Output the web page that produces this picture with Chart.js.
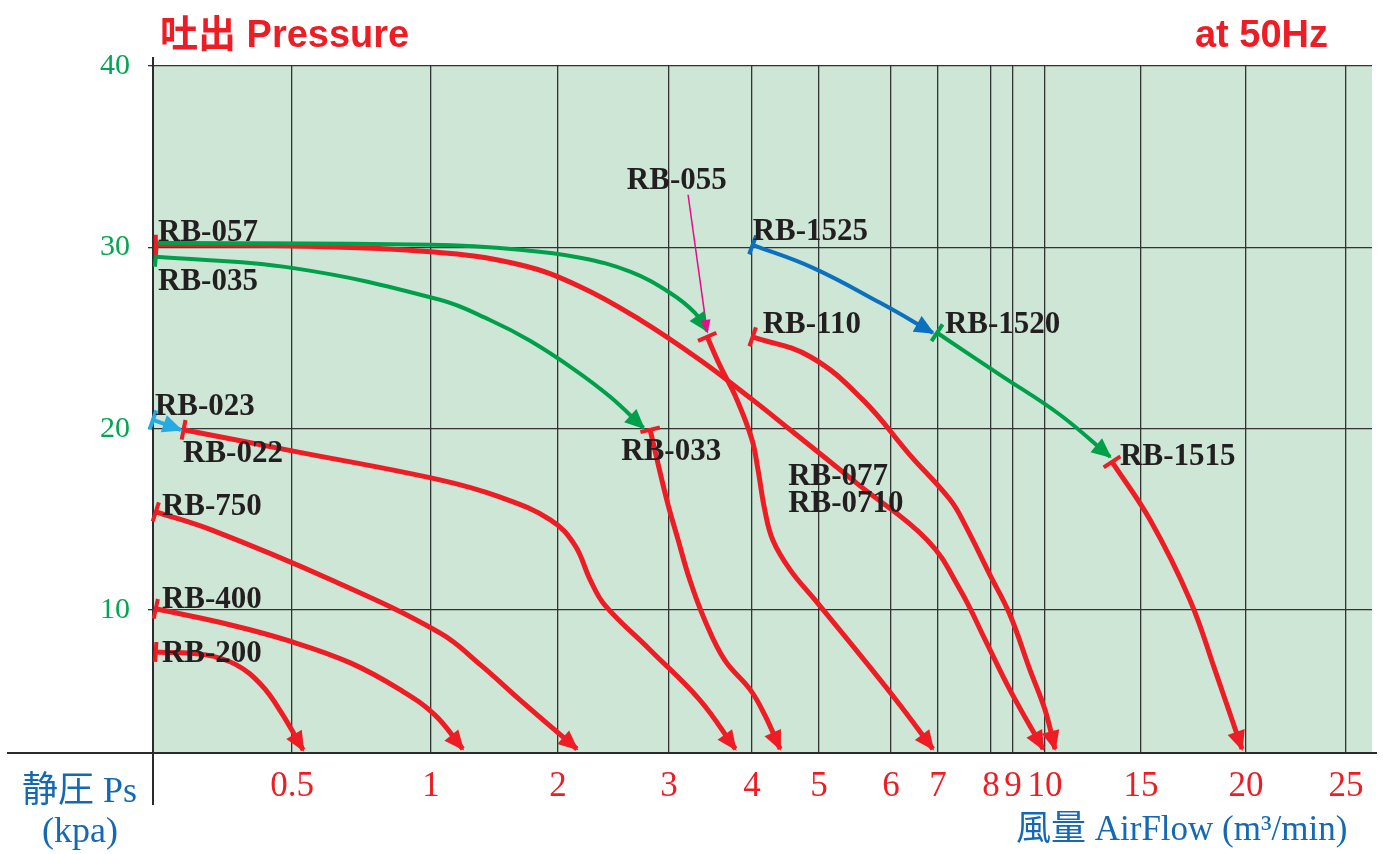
<!DOCTYPE html>
<html>
<head>
<meta charset="utf-8">
<title>RB blower pressure curves</title>
<script src="https://cdn.jsdelivr.net/npm/chart.js@4.4.1/dist/chart.umd.min.js"></script>
<style>
  body { margin: 0; background: #fff; }
  canvas { display: block; }
</style>
</head>
<body>
<canvas id="chart" width="1383" height="854"></canvas>
<script>
// x axis is not linear: airflow tick values and where their grid lines sit on the axis
const xTickValues = [0, 0.5, 1, 2, 3, 4, 5, 6, 7, 8, 9, 10, 15, 20, 25];
const xTickPos = [0, 139, 278, 405, 516, 599, 666, 738, 785, 838, 860, 892, 988, 1093, 1193];
const xAxisEnd = 1219;
const yTickValues = [10, 20, 30, 40];

// curves: airflow (m3/min) and static pressure (kPa)
const rb200Flow = [0.01, 0.19, 0.30, 0.39, 0.46, 0.54];
const rb200Ps = [7.69, 7.53, 6.98, 5.87, 4.39, 2.29];
const rb400Flow = [0.01, 0.28, 0.49, 0.71, 0.89, 1.03, 1.25];
const rb400Ps = [10.07, 9.18, 8.30, 7.09, 5.60, 4.22, 2.34];
const rb750Flow = [0.01, 0.21, 0.64, 1.07, 1.39, 1.70, 2.17];
const rb750Ps = [15.42, 14.42, 11.67, 8.74, 6.98, 5.05, 2.34];
const rb022Flow = [0.11, 0.50, 1.07, 1.54, 1.94, 2.15, 2.29, 2.42, 2.83, 3.37, 3.80];
const rb022Ps = [19.94, 18.78, 17.18, 16.24, 14.98, 13.60, 11.67, 10.29, 7.80, 5.05, 2.34];
const rb023Flow = [0, 0.10];
const rb023Ps = [20.49, 19.94];
const rb057UpFlow = [0, 1.0, 1.70, 2.20, 2.65, 3.01, 3.31, 3.46];
const rb057UpPs = [30.25, 30.14, 29.87, 29.43, 28.66, 27.50, 26.40, 25.40];
const rb057Flow = [0.01, 0.49, 1.0, 1.70, 2.20, 2.74, 3.37, 4.01, 4.57, 5.57, 6.77, 7.42, 7.89, 8.86, 9.94];
const rb057Ps = [30.14, 30.09, 29.76, 29.04, 27.83, 26.0, 23.80, 21.59, 19.94, 16.85, 13.87, 11.11, 8.36, 5.60, 2.34];
const rb035Flow = [0.01, 0.50, 1.07, 1.46, 1.78, 2.15, 2.47, 2.77];
const rb035Ps = [29.48, 28.87, 27.11, 26.01, 24.85, 23.25, 21.76, 20.05];
const rb055Flow = [3.46, 3.61, 3.82, 4.00, 4.09, 4.19, 4.31, 4.57, 4.94, 5.57, 6.19, 6.89];
const rb055Ps = [25.07, 23.52, 21.59, 19.39, 17.73, 15.53, 13.87, 12.22, 10.56, 7.53, 4.77, 2.34];
const rb033Flow = [2.83, 2.98, 3.11, 3.25, 3.43, 3.67, 3.98, 4.19, 4.42];
const rb033Ps = [19.94, 16.08, 13.87, 11.67, 9.46, 7.25, 5.60, 4.22, 2.34];
const rb110Flow = [4.01, 4.87, 5.61, 6.40, 7.23, 7.51, 7.98, 8.86, 9.53, 10.0, 10.52];
const rb110Ps = [25.07, 23.97, 21.59, 18.56, 16.08, 14.70, 11.94, 9.74, 6.70, 4.50, 2.34];
const rb1525Flow = [4.01, 4.91, 5.85, 6.89];
const rb1525Ps = [30.14, 28.87, 26.94, 25.29];
const rb1520Flow = [6.98, 8.41, 10.78, 13.39];
const rb1520Ps = [25.29, 22.97, 20.77, 18.45];
const rb1515Flow = [13.49, 15.43, 17.33, 18.52, 19.81];
const rb1515Ps = [18.17, 14.98, 10.56, 6.70, 2.34];
const rb055PointerFlow = [3.23, 3.46];
const rb055PointerPs = [32.90, 25.34];

// model names and where they are written (flow, kPa at text baseline-left)
const modelNames = ['RB-057', 'RB-035', 'RB-023', 'RB-022', 'RB-750', 'RB-400', 'RB-200', 'RB-055',
  'RB-1525', 'RB-110', 'RB-1520', 'RB-033', 'RB-077', 'RB-0710', 'RB-1515'];
const nameFlow = [0.018, 0.018, 0.007, 0.108, 0.032, 0.032, 0.032, 2.62, 4.01, 4.16, 7.13, 2.57, 4.54, 4.54, 13.91];
const namePs = [30.36, 27.66, 20.77, 18.17, 15.25, 10.12, 7.14, 33.23, 30.42, 25.29, 25.29, 18.29, 16.91, 15.42, 18.01];

const RED = '#ee1d25';
const GREEN = '#00a04b';
const BLUE = '#0b70bd';
const CYAN = '#25aae1';
const MAGENTA = '#ea0a8c';

const curves = [
  { flow: rb057UpFlow, ps: rb057UpPs, color: GREEN, width: 4, bar: false },
  { flow: rb035Flow, ps: rb035Ps, color: GREEN, width: 4, bar: true },
  { flow: rb057Flow, ps: rb057Ps, color: RED, width: 5, bar: true },
  { flow: rb200Flow, ps: rb200Ps, color: RED, width: 5, bar: true },
  { flow: rb400Flow, ps: rb400Ps, color: RED, width: 5, bar: true },
  { flow: rb750Flow, ps: rb750Ps, color: RED, width: 5, bar: true },
  { flow: rb022Flow, ps: rb022Ps, color: RED, width: 5, bar: true },
  { flow: rb023Flow, ps: rb023Ps, color: CYAN, width: 4, bar: true },
  { flow: rb055Flow, ps: rb055Ps, color: RED, width: 5, bar: true },
  { flow: rb033Flow, ps: rb033Ps, color: RED, width: 5, bar: true },
  { flow: rb110Flow, ps: rb110Ps, color: RED, width: 5, bar: true },
  { flow: rb1525Flow, ps: rb1525Ps, color: BLUE, width: 4, bar: true },
  { flow: rb1520Flow, ps: rb1520Ps, color: GREEN, width: 4, bar: true },
  { flow: rb1515Flow, ps: rb1515Ps, color: RED, width: 5, bar: true },
  { flow: rb055PointerFlow, ps: rb055PointerPs, color: MAGENTA, width: 1.5, bar: false }
];

// airflow -> axis position, piecewise between the grid lines
function toAxis(flow) {
  for (let i = 1; i < xTickValues.length; i++) {
    if (flow <= xTickValues[i] || i === xTickValues.length - 1) {
      const f0 = xTickValues[i - 1], f1 = xTickValues[i];
      const p0 = xTickPos[i - 1], p1 = xTickPos[i];
      return p0 + (flow - f0) / (f1 - f0) * (p1 - p0);
    }
  }
}

function unit(dx, dy) {
  const l = Math.hypot(dx, dy) || 1;
  return [dx / l, dy / l];
}

function drawArrow(ctx, x, y, dx, dy, len, half, color) {
  const [ux, uy] = unit(dx, dy);
  const tx = x + ux * 2, ty = y + uy * 2;
  const bx = tx - ux * len, by = ty - uy * len;
  ctx.fillStyle = color;
  ctx.beginPath();
  ctx.moveTo(tx, ty);
  ctx.lineTo(bx - uy * half, by + ux * half);
  ctx.lineTo(bx + uy * half, by - ux * half);
  ctx.closePath();
  ctx.fill();
}

function drawBar(ctx, x, y, dx, dy, half, width, color) {
  const [ux, uy] = unit(dx, dy);
  ctx.strokeStyle = color;
  ctx.lineWidth = width;
  ctx.beginPath();
  ctx.moveTo(x - uy * half, y + ux * half);
  ctx.lineTo(x + uy * half, y - ux * half);
  ctx.stroke();
}

const chartDecor = {
  id: 'chartDecor',
  beforeDraw(chart) {
    const { ctx, chartArea: a } = chart;
    ctx.save();
    ctx.fillStyle = '#cde6d5';
    ctx.fillRect(a.left, a.top, a.right - a.left, a.bottom - a.top);
    ctx.restore();
  },
  afterDraw(chart) {
    const { ctx, chartArea: a, scales } = chart;
    ctx.save();
    // long axis lines
    ctx.strokeStyle = '#2b2b2b';
    ctx.lineWidth = 2;
    ctx.beginPath();
    ctx.moveTo(7, a.bottom);
    ctx.lineTo(a.right + 5, a.bottom);
    ctx.moveTo(a.left, a.top - 9);
    ctx.lineTo(a.left, 805);
    ctx.stroke();

    // start bars and arrow heads
    chart.data.datasets.forEach((ds, i) => {
      const pts = chart.getDatasetMeta(i).data;
      const c = curves[i];
      const n = pts.length;
      const last = pts[n - 1], prev = pts[n - 2];
      let dx = last.x - last.cp1x, dy = last.y - last.cp1y;
      if (!isFinite(dx) || Math.hypot(dx, dy) < 0.5) { dx = last.x - prev.x; dy = last.y - prev.y; }
      if (c.width < 2) drawArrow(ctx, last.x, last.y, dx, dy, 14, 5, c.color);
      else drawArrow(ctx, last.x, last.y, dx, dy, 20, 9, c.color);
      if (c.bar) {
        const first = pts[0], next = pts[1];
        let sx = first.cp2x - first.x, sy = first.cp2y - first.y;
        if (!isFinite(sx) || Math.hypot(sx, sy) < 0.5) { sx = next.x - first.x; sy = next.y - first.y; }
        drawBar(ctx, first.x, first.y, sx, sy, 10, 4, c.color);
      }
    });

    // model names
    ctx.fillStyle = '#231f20';
    ctx.font = 'bold 31px "Liberation Serif"';
    ctx.textAlign = 'left';
    ctx.textBaseline = 'alphabetic';
    modelNames.forEach((name, i) => {
      ctx.fillText(name, scales.x.getPixelForValue(toAxis(nameFlow[i])), scales.y.getPixelForValue(namePs[i]));
    });

    // headings
    ctx.fillStyle = RED;
    ctx.font = 'bold 38px "Liberation Sans", "Noto Sans CJK JP"';
    ctx.fillText('吐出 Pressure', 160, 47);
    ctx.textAlign = 'right';
    ctx.fillText('at 50Hz', 1328, 47);

    // axis titles
    ctx.fillStyle = '#1468b4';
    ctx.font = '36px "Liberation Serif", "Noto Sans CJK JP"';
    ctx.textAlign = 'left';
    ctx.fillText('静圧 Ps', 22, 802);
    ctx.fillText('(kpa)', 42, 842);
    ctx.font = '35px "Liberation Serif", "Noto Sans CJK JP"';
    ctx.fillText('風量 AirFlow (m³/min)', 1016, 840);
    ctx.restore();
  }
};

new Chart(document.getElementById('chart'), {
  type: 'line',
  data: {
    datasets: curves.map(c => ({
      data: c.flow.map((f, i) => ({ x: toAxis(f), y: c.ps[i] })),
      borderColor: c.color,
      borderWidth: c.width,
      pointRadius: 0,
      fill: false,
      tension: 0.4,
      clip: false
    }))
  },
  options: {
    responsive: false,
    animation: false,
    devicePixelRatio: 1,
    layout: { padding: { top: 66, right: 11, left: 0, bottom: 0 } },
    plugins: { legend: { display: false }, tooltip: { enabled: false } },
    scales: {
      x: {
        type: 'linear',
        min: 0,
        max: xAxisEnd,
        afterFit: s => { s.height = 101; },
        afterBuildTicks: s => { s.ticks = xTickPos.map(v => ({ value: v })); },
        grid: { color: '#333', lineWidth: 1.3, drawTicks: false },
        border: { display: true, color: '#2b2b2b', width: 2 },
        ticks: {
          autoSkip: false,
          maxRotation: 0,
          padding: 13,
          color: RED,
          font: { family: 'Liberation Serif', size: 35 },
          callback: (v, i) => (xTickValues[i] ? String(xTickValues[i]) : '')
        }
      },
      y: {
        min: 2.12,
        max: 40,
        afterFit: s => { s.width = 153; },
        afterBuildTicks: s => { s.ticks = yTickValues.map(v => ({ value: v })); },
        grid: { color: '#333', lineWidth: 1.3, tickLength: 5 },
        border: { display: true, color: '#2b2b2b', width: 2 },
        ticks: {
          padding: 18,
          color: '#00a651',
          font: { family: 'Liberation Serif', size: 30 }
        }
      }
    }
  },
  plugins: [chartDecor]
});
</script>
</body>
</html>
